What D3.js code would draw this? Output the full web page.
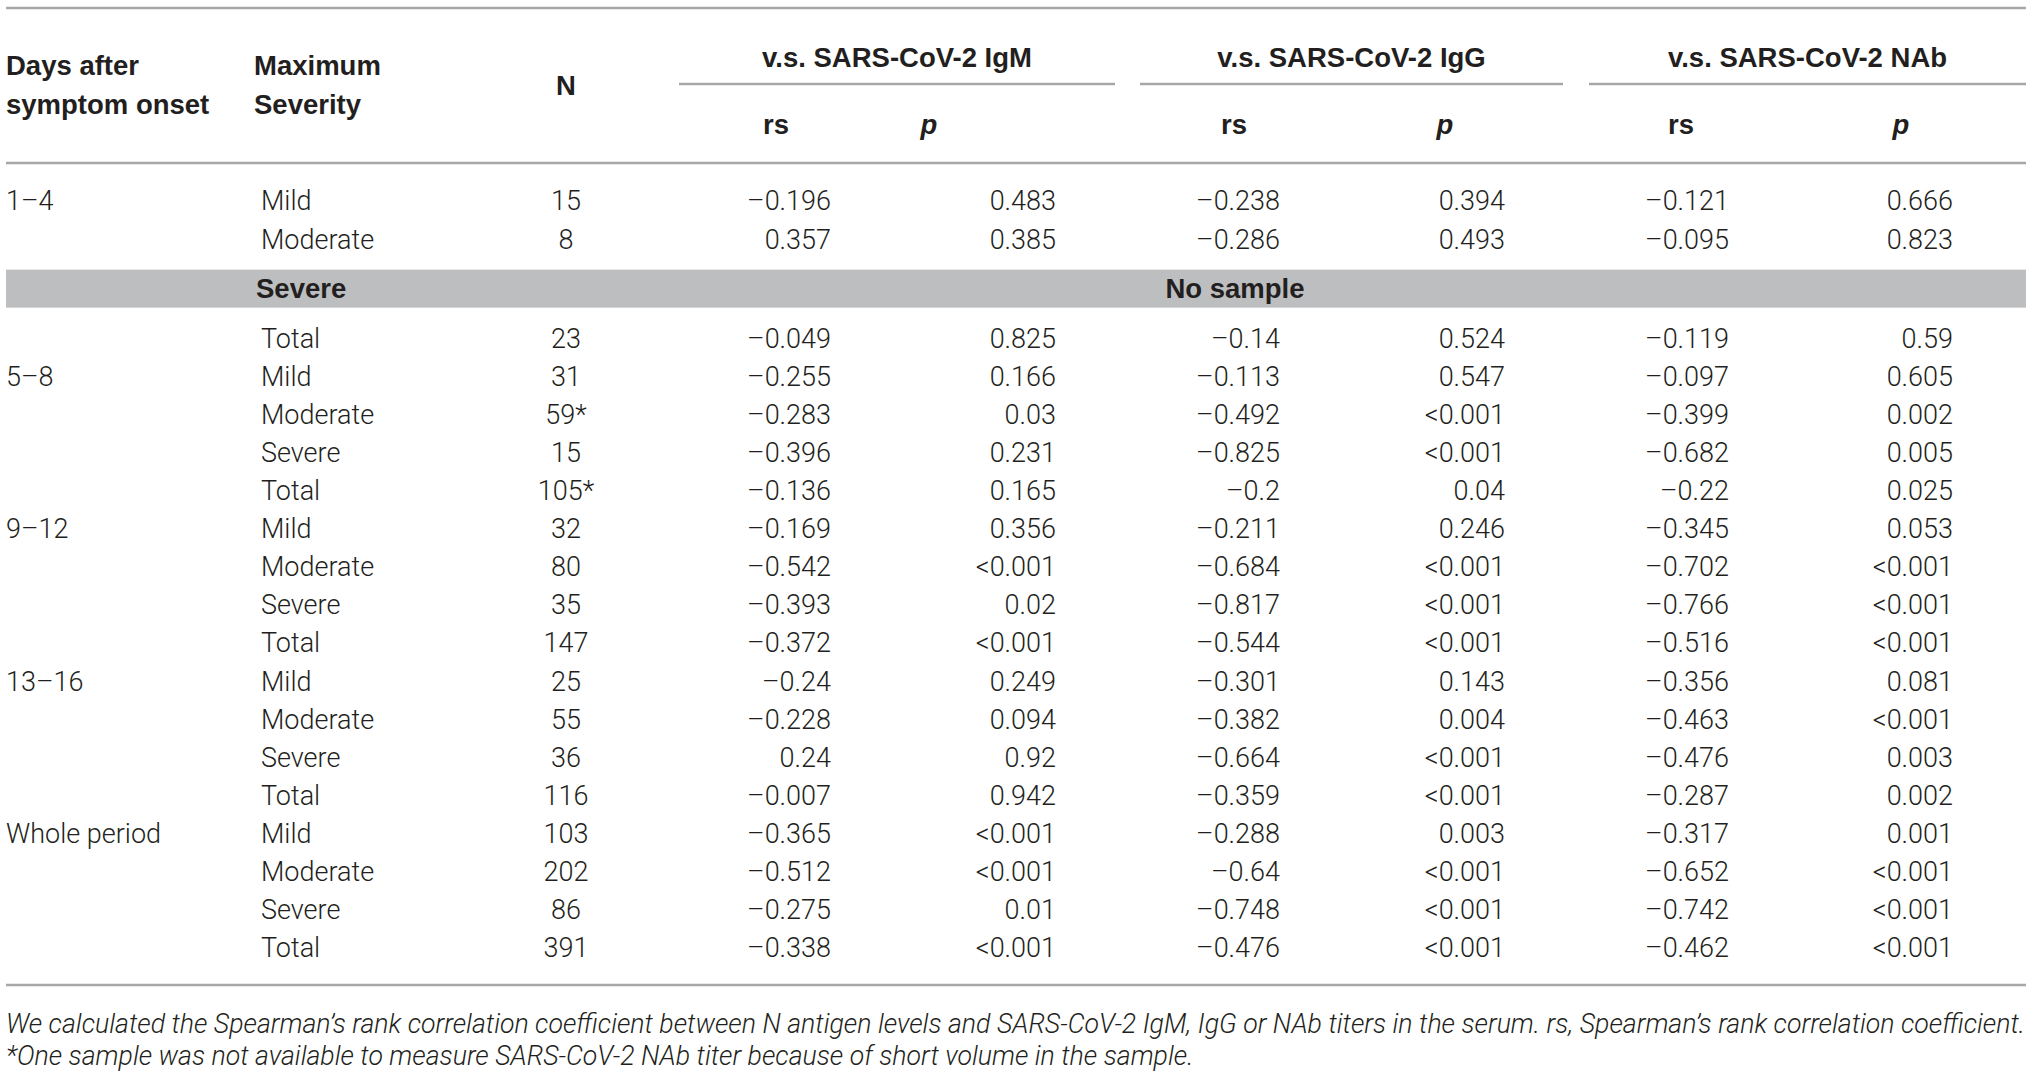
<!DOCTYPE html>
<html>
<head>
<meta charset="utf-8">
<script src="https://cdn.jsdelivr.net/npm/d3@7"></script>
<style>
  body { margin: 0; background: #fff; }
  svg text { font-family: Roboto, "Liberation Sans", sans-serif; fill: #231f20; }
  svg text.bold { font-family: "Liberation Sans", Arial, sans-serif; font-weight: bold; }
</style>
</head>
<body>
<div id="table"></div>
<script>
// table contents, one array per column
const periods = ["1–4", "5–8", "9–12", "13–16", "Whole period"];
const severities = ["Mild", "Moderate", "Severe", "Total"];
const nCounts = ["15", "8", "", "23", "31", "59*", "15", "105*", "32", "80", "35", "147",
  "25", "55", "36", "116", "103", "202", "86", "391"];
const igmRs = ["–0.196", "0.357", "", "–0.049", "–0.255", "–0.283", "–0.396", "–0.136",
  "–0.169", "–0.542", "–0.393", "–0.372", "–0.24", "–0.228", "0.24", "–0.007",
  "–0.365", "–0.512", "–0.275", "–0.338"];
const igmP = ["0.483", "0.385", "", "0.825", "0.166", "0.03", "0.231", "0.165",
  "0.356", "<0.001", "0.02", "<0.001", "0.249", "0.094", "0.92", "0.942",
  "<0.001", "<0.001", "0.01", "<0.001"];
const iggRs = ["–0.238", "–0.286", "", "–0.14", "–0.113", "–0.492", "–0.825", "–0.2",
  "–0.211", "–0.684", "–0.817", "–0.544", "–0.301", "–0.382", "–0.664", "–0.359",
  "–0.288", "–0.64", "–0.748", "–0.476"];
const iggP = ["0.394", "0.493", "", "0.524", "0.547", "<0.001", "<0.001", "0.04",
  "0.246", "<0.001", "<0.001", "<0.001", "0.143", "0.004", "<0.001", "<0.001",
  "0.003", "<0.001", "<0.001", "<0.001"];
const nabRs = ["–0.121", "–0.095", "", "–0.119", "–0.097", "–0.399", "–0.682", "–0.22",
  "–0.345", "–0.702", "–0.766", "–0.516", "–0.356", "–0.463", "–0.476", "–0.287",
  "–0.317", "–0.652", "–0.742", "–0.462"];
const nabP = ["0.666", "0.823", "", "0.59", "0.605", "0.002", "0.005", "0.025",
  "0.053", "<0.001", "<0.001", "<0.001", "0.081", "<0.001", "0.003", "0.002",
  "0.001", "<0.001", "<0.001", "<0.001"];
const groupLabels = ["v.s. SARS-CoV-2 IgM", "v.s. SARS-CoV-2 IgG", "v.s. SARS-CoV-2 NAb"];
const noSampleLabel = "No sample";
const footnotes = [
  "We calculated the Spearman’s rank correlation coefficient between N antigen levels and SARS-CoV-2 IgM, IgG or NAb titers in the serum. rs, Spearman’s rank correlation coefficient.",
  "*One sample was not available to measure SARS-CoV-2 NAb titer because of short volume in the sample."
];

const width = 2032;
const height = 1073;
const left = 6, right = 2026;
const lineColor = '#a7a7a7';
const bodySize = 27;
const headSize = 27.5;

const svg = d3.select('#table')
  .append('svg')
  .attr('width', width)
  .attr('height', height);

// rows: the gray "no sample" row (index 2) gets some extra room above and below
const rows = d3.range(nCounts.length).map(i => ({
  i: i,
  unit: i + (i >= 2 ? 0.3 : 0) + (i >= 3 ? 0.3 : 0)
}));
const yScale = d3.scaleLinear().domain([0, 1]).range([201, 239.1]);

// column positions
const colX = d3.scaleOrdinal()
  .domain(['period', 'severity', 'n', 'igmRs', 'igmP', 'iggRs', 'iggP', 'nabRs', 'nabP'])
  .range([left, 261, 566, 831, 1056, 1280, 1505, 1729, 1953]);
const headX = d3.scaleOrdinal()
  .domain(['igmRs', 'igmP', 'iggRs', 'iggP', 'nabRs', 'nabP'])
  .range([776, 929, 1234, 1445, 1681, 1901]);
const groupX = d3.scaleOrdinal()
  .domain(groupLabels)
  .range([[679, 1115], [1140, 1563], [1589, 2026]]);

// gray band
const grayRow = rows[2];
svg.append('rect')
  .attr('x', left)
  .attr('y', yScale(grayRow.unit) - 19)
  .attr('width', right - left)
  .attr('height', 38)
  .attr('fill', '#bdbec0');

// horizontal rules
[8, 163, 985].forEach(y => {
  svg.append('line')
    .attr('x1', left).attr('x2', right)
    .attr('y1', y).attr('y2', y)
    .attr('stroke', lineColor).attr('stroke-width', 2.5);
});
groupLabels.forEach(g => {
  const [x1, x2] = groupX(g);
  svg.append('line')
    .attr('x1', x1).attr('x2', x2)
    .attr('y1', 84).attr('y2', 84)
    .attr('stroke', lineColor).attr('stroke-width', 2.5);
  svg.append('text')
    .attr('class', 'bold')
    .attr('x', (x1 + x2) / 2)
    .attr('y', 57)
    .attr('dy', '0.35em')
    .attr('text-anchor', 'middle')
    .attr('font-size', headSize)
    .text(g);
});

// header
const head = svg.append('g')
  .attr('font-size', headSize);
const headText = (x, y, s) => head.append('text').attr('class', 'bold')
  .attr('x', x).attr('y', y).attr('dy', '0.35em').text(s);
headText(left, 65, 'Days after');
headText(left, 104, 'symptom onset');
headText(254, 65, 'Maximum');
headText(254, 104, 'Severity');
headText(colX('n'), 85, 'N').attr('text-anchor', 'middle');
headX.domain().forEach(k => {
  const isP = k.endsWith('P');
  headText(headX(k), 124, isP ? 'p' : 'rs')
    .attr('text-anchor', 'middle')
    .attr('font-style', isP ? 'italic' : 'normal');
});

// body
const body = svg.append('g')
  .attr('font-size', bodySize)
  .attr('font-weight', 300);

const rowG = body.selectAll('.row')
  .data(rows)
  .enter()
  .append('g')
  .attr('class', 'row')
  .attr('transform', d => 'translate(0,' + yScale(d.unit) + ')');

rowG.filter(d => d.i % 4 === 0)
  .append('text')
  .attr('x', colX('period'))
  .attr('dy', '0.35em')
  .text(d => periods[d.i / 4]);

rowG.append('text')
  .attr('class', d => d.i === 2 ? 'bold' : null)
  .attr('x', d => d.i === 2 ? 256 : colX('severity'))
  .attr('dy', '0.35em')
  .attr('font-size', d => d.i === 2 ? headSize : bodySize)
  .text(d => severities[d.i % 4]);

rowG.append('text')
  .attr('x', colX('n'))
  .attr('dy', '0.35em')
  .attr('text-anchor', 'middle')
  .text(d => nCounts[d.i]);

const valueCols = [['igmRs', igmRs], ['igmP', igmP], ['iggRs', iggRs],
  ['iggP', iggP], ['nabRs', nabRs], ['nabP', nabP]];
valueCols.forEach(([key, arr]) => {
  rowG.append('text')
    .attr('x', colX(key))
    .attr('dy', '0.35em')
    .attr('text-anchor', 'end')
    .text(d => arr[d.i]);
});

rowG.filter(d => d.i === 2)
  .append('text')
  .attr('class', 'bold')
  .attr('x', 1235)
  .attr('dy', '0.35em')
  .attr('text-anchor', 'middle')
  .attr('font-size', headSize)
  .text(noSampleLabel);

// footnotes
svg.append('g')
  .attr('font-size', 26.7)
  .attr('font-weight', 300)
  .attr('font-style', 'italic')
  .selectAll('text')
  .data(footnotes)
  .enter()
  .append('text')
  .attr('x', left)
  .attr('y', (d, i) => 1024 + i * 32)
  .attr('dy', '0.35em')
  .text(d => d);
</script>
</body>
</html>
